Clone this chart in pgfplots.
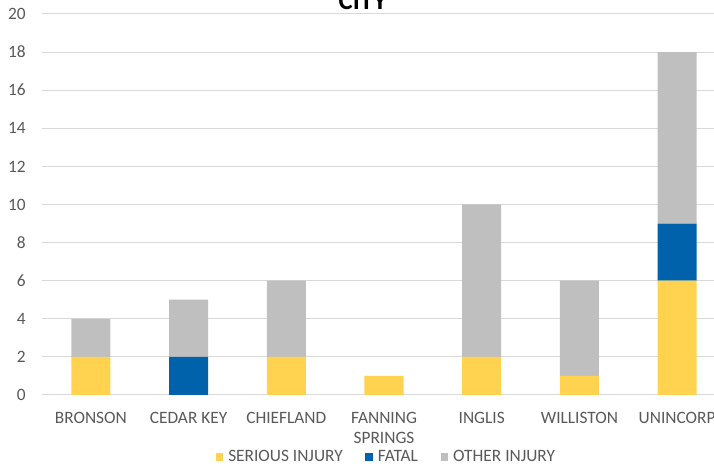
\documentclass[border=0pt]{standalone}
\usepackage{pgfplots}
\pgfplotsset{compat=1.18}
\usepackage{fontspec}
\setmainfont{Carlito}
\definecolor{serious}{HTML}{FFD34F}
\definecolor{fatal}{HTML}{0062AA}
\definecolor{other}{HTML}{BFBFBF}
\definecolor{gridc}{HTML}{D9D9D9}
\definecolor{txt}{HTML}{595959}
\begin{document}
\begin{tikzpicture}
\useasboundingbox (0,0) rectangle (535.5pt,349.5pt);
\clip (0,0) rectangle (535.5pt,349.5pt);
\begin{axis}[
  at={(31.5pt,53.25pt)}, anchor=south west,
  scale only axis, width=513pt, height=285.75pt,
  ybar stacked, bar width=29.25pt,
  xmin=-0.5, xmax=6.5, ymin=0, ymax=20,
  ytick={0,2,...,20},
  xtick=data,
  xticklabels={BRONSON,CEDAR KEY,CHIEFLAND,{FANNING\\SPRINGS},INGLIS,WILLISTON,UNINCORP},
  major tick length=0pt,
  ymajorgrids, grid style={gridc, line width=0.75pt},
  axis x line*=bottom, axis y line*=left,
  x axis line style={gridc, line width=0.75pt, -},
  y axis line style={draw=none},
  /pgf/number format/assume math mode=true,
  tick label style={font=\fontsize{13}{15}\selectfont, text=txt},
  yticklabel style={anchor=east, inner sep=0pt, xshift=-12pt},
  xticklabel style={anchor=north, inner sep=0pt, yshift=-12.4pt, align=center},
  legend style={at={(0.504,-0.1627)}, anchor=center, draw=none, fill=none,
    font=\fontsize{13}{15}\selectfont, text=txt, inner sep=0pt,
    /tikz/every even column/.append style={column sep=15pt},
    /tikz/every odd column/.append style={column sep=2pt}},
  legend columns=3,
  legend cell align=left,
  legend image code/.code={\fill[#1] (0pt,-2.7pt) rectangle (5.4pt,2.7pt);},
  clip=false,
]
\addplot[fill=serious, draw=none] coordinates {(0,2) (1,0) (2,2) (3,1) (4,2) (5,1) (6,6)};
\addplot[fill=fatal, draw=none] coordinates {(0,0) (1,2) (2,0) (3,0) (4,0) (5,0) (6,3)};
\addplot[fill=other, draw=none] coordinates {(0,2) (1,3) (2,4) (3,0) (4,8) (5,5) (6,9)};
\legend{SERIOUS INJURY, FATAL, OTHER INJURY}
\node[anchor=base, font=\fontsize{20}{24}\selectfont\bfseries, text=black, inner sep=0pt] at (rel axis cs:0.469,1) [yshift=3.5pt] {CITY};
\end{axis}
\end{tikzpicture}
\end{document}
